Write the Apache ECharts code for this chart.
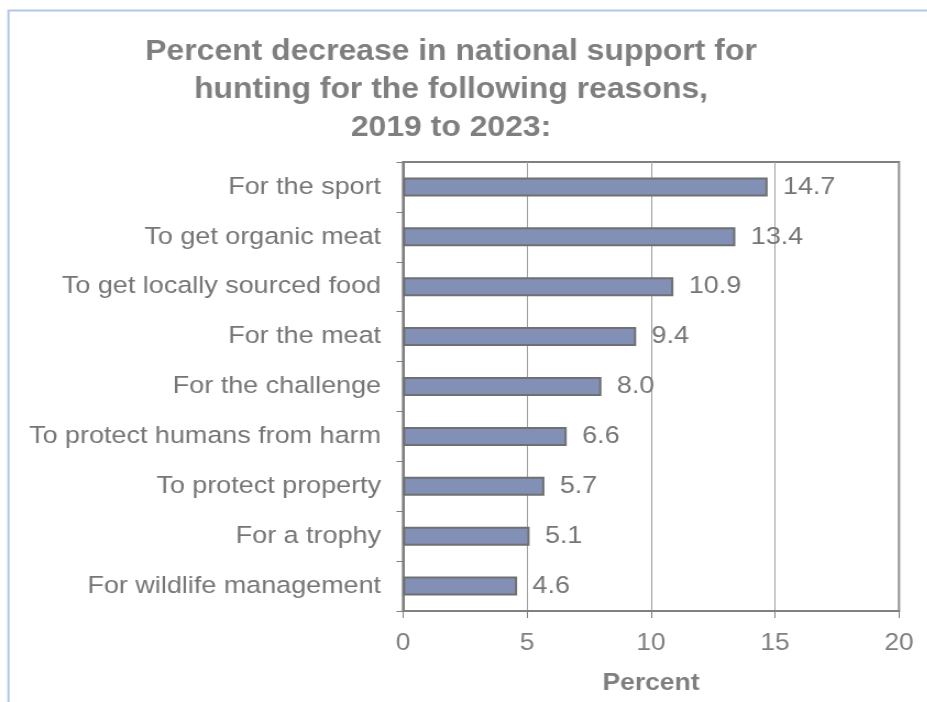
<!DOCTYPE html>
<html>
<head>
<meta charset="utf-8">
<style>
  html, body { margin: 0; padding: 0; background: #ffffff; overflow: hidden; }
  /* The chart is laid out narrower and widened by 10% so its lettering comes out broad */
  #chart { width: 843px; height: 702px; transform: scaleX(1.1); transform-origin: 0 0; }
</style>
<script src="https://cdn.jsdelivr.net/npm/echarts@6/dist/echarts.min.js"></script>
</head>
<body>
<div id="chart"></div>
<script>
// Reasons for hunting, listed top to bottom
const categories = [
  'For the sport',
  'To get organic meat',
  'To get locally sourced food',
  'For the meat',
  'For the challenge',
  'To protect humans from harm',
  'To protect property',
  'For a trophy',
  'For wildlife management'
];
// Percent decrease in support, 2019 to 2023
const values = [14.7, 13.4, 10.9, 9.4, 8.0, 6.6, 5.7, 5.1, 4.6];
const xTicks = [0, 5, 10, 15, 20];

const chart = echarts.init(document.getElementById('chart'), null, { renderer: 'canvas' });
const font = 'Liberation Sans, Arial, sans-serif';

chart.setOption({
  backgroundColor: '#ffffff',
  animation: false,
  title: {
    text: 'Percent decrease in national support for\nhunting for the following reasons,\n2019 to 2023:',
    left: 405,
    textAlign: 'center',
    top: 28,
    textStyle: {
      fontFamily: font,
      fontSize: 29,
      fontWeight: 'bold',
      color: '#7f7f7f',
      lineHeight: 38
    }
  },
  graphic: [{
    type: 'rect',
    shape: { x: 7.7, y: 10.5, width: 1000, height: 1000 },
    style: { fill: 'none', stroke: '#b4c6e7', lineWidth: 2 },
    silent: true
  }],
  grid: {
    left: 366.4,
    right: 25.7,
    top: 162,
    bottom: 91,
    show: true,
    borderColor: '#808080',
    borderWidth: 2,
    containLabel: false
  },
  xAxis: {
    type: 'value',
    min: xTicks[0],
    max: xTicks[xTicks.length - 1],
    interval: 5,
    name: 'Percent',
    nameLocation: 'middle',
    nameGap: 60,
    nameTextStyle: { fontFamily: font, fontSize: 24, fontWeight: 'bold', color: '#7f7f7f' },
    axisLine: { show: true, lineStyle: { color: '#808080', width: 2 } },
    axisTick: { show: true, length: 7, lineStyle: { color: '#808080', width: 1 } },
    axisLabel: { fontFamily: font, fontSize: 24, color: '#7f7f7f', margin: 20 },
    splitLine: { show: true, lineStyle: { color: '#a0a0a0', width: 1 } }
  },
  yAxis: {
    type: 'category',
    data: categories,
    inverse: true,
    axisLine: { show: true, lineStyle: { color: '#808080', width: 2 } },
    axisTick: { show: true, length: 6, alignWithLabel: false, lineStyle: { color: '#808080', width: 1 } },
    axisLabel: { fontFamily: font, fontSize: 24.5, color: '#767676', margin: 20 },
    splitLine: { show: false }
  },
  series: [{
    type: 'bar',
    data: values,
    barWidth: 19,
    itemStyle: { color: '#8190b4', borderColor: '#707070', borderWidth: 2 },
    label: {
      show: true,
      position: 'right',
      distance: 14,
      fontFamily: font,
      fontSize: 24.5,
      color: '#767676',
      formatter: p => p.value.toFixed(1)
    }
  }]
});
</script>
</body>
</html>
